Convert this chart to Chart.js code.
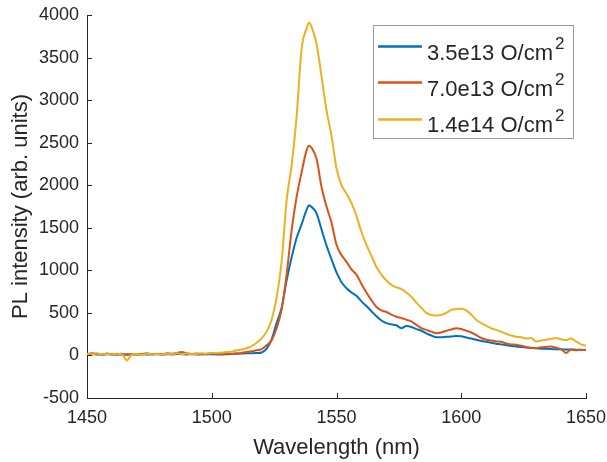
<!DOCTYPE html>
<html>
<head>
<meta charset="utf-8">
<script src="https://cdn.jsdelivr.net/npm/chart.js@4.4.1/dist/chart.umd.min.js"></script>
<style>
  html, body { margin: 0; padding: 0; background: #ffffff; }
  #wrap { width: 607px; height: 462px; position: relative; }
</style>
</head>
<body>
<div id="wrap"><canvas id="c" width="607" height="462"></canvas></div>
<script>
// ---- data ----
const wavelengths = [
  1450,1452,1454,1456,1458,1460,1462,1464,1466,1468,
  1470,1472,1474,1476,1478,1480,1482,1484,1486,1488,
  1490,1492,1494,1496,1498,1500,1502,1504,1506,1508,
  1510,1512,1514,1516,1518,1520,1522,1524,1526,1528,
  1530,1532,1534,1536,1538,1539,1540,1542,1544,1546,1548,
  1550,1552,1554,1556,1558,1560,1562,1564,1566,1568,
  1570,1572,1574,1576,1578,1580,1582,1584,1586,1588,
  1590,1592,1594,1596,1598,1600,1602,1604,1606,1608,
  1610,1612,1614,1616,1618,1620,1622,1624,1626,1628,
  1630,1632,1634,1636,1638,1640,1642,1644,1646,1648,
  1650
];
const dose35e13 = [
  10,15,12,8,15,10,12,8,15,10,
  12,15,10,12,15,10,14,12,18,15,
  12,15,10,14,12,15,12,10,15,18,
  20,22,25,25,28,35,80,190,380,560,
  880,1150,1380,1540,1710,1765,1745,1670,1480,1290,1130,
  975,860,790,740,700,635,580,520,460,410,
  380,365,355,320,345,335,310,290,260,235,
  215,215,220,222,228,225,210,198,185,170,
  160,148,138,130,120,112,105,98,92,88,
  85,80,78,75,72,72,70,70,68,66,
  65
];
const dose70e13 = [
  15,25,20,10,22,15,12,20,5,15,
  10,18,25,15,20,12,25,20,30,40,
  25,18,22,15,20,25,20,18,22,20,
  25,30,40,50,60,75,120,180,320,540,
  950,1470,1860,2150,2410,2465,2440,2310,1980,1750,1560,
  1300,1180,1100,1010,950,840,740,650,570,530,
  510,480,455,440,420,400,360,320,300,280,
  262,270,290,305,320,310,290,270,240,205,
  185,175,165,160,140,130,125,115,100,90,
  85,95,100,105,90,75,30,70,60,65,
  65
];
const dose14e14 = [
  20,15,25,10,18,12,20,15,-60,10,
  15,8,20,12,18,10,20,15,25,18,
  22,15,20,25,20,28,30,32,40,45,
  60,70,85,110,150,200,280,420,680,1100,
  1820,2230,2800,3600,3840,3910,3860,3660,3280,2880,2580,
  2200,2000,1900,1790,1640,1450,1300,1170,1040,950,
  880,830,800,780,740,690,620,560,500,475,
  470,475,500,535,545,548,530,480,420,380,
  350,320,300,280,255,235,220,215,200,205,
  165,175,185,195,205,190,180,200,165,130,
  115
];
const seriesLabels = ["3.5e13 O/cm²", "7.0e13 O/cm²", "1.4e14 O/cm²"];
const xTicks = [1450, 1500, 1550, 1600, 1650];
const yTicks = [-500, 0, 500, 1000, 1500, 2000, 2500, 3000, 3500, 4000];

// ---- styling ----
const FONT = '"Liberation Sans", Arial, Helvetica, sans-serif';
const INK = '#262626';
const COLORS = ['#0072BD', '#D95319', '#EDB120'];

function pts(ys) { return wavelengths.map((x, i) => ({ x: x, y: ys[i] })); }

const innerTicks = {
  id: 'innerTicks',
  afterDraw(chart) {
    const ctx = chart.ctx, xs = chart.scales.x, ys = chart.scales.y;
    const area = chart.chartArea;
    ctx.save();
    ctx.strokeStyle = INK;
    ctx.lineWidth = 1;
    ctx.beginPath();
    yTicks.forEach(v => {
      const p = Math.round(ys.getPixelForValue(v)) + 0.5;
      ctx.moveTo(area.left, p); ctx.lineTo(area.left + 5, p);
    });
    xTicks.forEach(v => {
      const p = Math.round(xs.getPixelForValue(v)) + 0.5;
      ctx.moveTo(p, area.bottom); ctx.lineTo(p, area.bottom - 5);
    });
    ctx.stroke();
    ctx.restore();
  }
};

const boxLegend = {
  id: 'boxLegend',
  afterDraw(chart) {
    const ctx = chart.ctx;
    const bx = 373, by = 25, bw = 200, bh = 113;
    ctx.save();
    ctx.fillStyle = '#ffffff';
    ctx.fillRect(bx, by, bw, bh);
    ctx.strokeStyle = '#9a9a9a';
    ctx.lineWidth = 1;
    ctx.strokeRect(bx + 0.5, by + 0.5, bw, bh);
    chart.data.datasets.forEach((ds, i) => {
      const base = by + 34.5 + i * 36.3;
      const ly = Math.round(base - 13.5) + 0.5;
      ctx.strokeStyle = ds.borderColor;
      ctx.lineWidth = 2.5;
      ctx.beginPath();
      ctx.moveTo(378, ly); ctx.lineTo(422, ly);
      ctx.stroke();
      const txt = ds.label;
      const main = txt.slice(0, -1);
      const sup = txt.slice(-1) === '²' ? '2' : '';
      ctx.fillStyle = INK;
      ctx.textBaseline = 'alphabetic';
      ctx.textAlign = 'left';
      ctx.font = '22px ' + FONT;
      ctx.fillText(main, 427, base);
      const w = ctx.measureText(main).width;
      ctx.font = '17px ' + FONT;
      ctx.fillText(sup, 427 + w + 2, base - 11);
    });
    ctx.restore();
  }
};

new Chart(document.getElementById('c'), {
  type: 'line',
  data: {
    datasets: [
      { label: seriesLabels[0], data: pts(dose35e13), borderColor: COLORS[0], order: 3 },
      { label: seriesLabels[1], data: pts(dose70e13), borderColor: COLORS[1], order: 2 },
      { label: seriesLabels[2], data: pts(dose14e14), borderColor: COLORS[2], order: 1 }
    ]
  },
  options: {
    responsive: false,
    animation: false,
    devicePixelRatio: 1,
    layout: { padding: { top: 15, right: 21, left: 0, bottom: 0 } },
    elements: {
      line: { borderWidth: 2, cubicInterpolationMode: 'monotone', fill: false },
      point: { radius: 0 }
    },
    plugins: { legend: { display: false }, tooltip: { enabled: false } },
    scales: {
      x: {
        type: 'linear', min: 1450, max: 1650,
        afterBuildTicks: s => { s.ticks = xTicks.map(v => ({ value: v })); },
        afterFit: s => { s.height = 64; s.paddingLeft = 0; s.paddingRight = 0; },
        grid: { drawOnChartArea: false, drawTicks: false },
        border: { display: true, color: INK, width: 1 },
        ticks: { color: INK, font: { family: FONT, size: 18 }, padding: 9, maxRotation: 0,
                 callback: v => String(v) },
        title: { display: true, text: 'Wavelength (nm)', color: INK,
                 font: { family: FONT, size: 22 }, padding: { top: 0, bottom: 1 } }
      },
      y: {
        type: 'linear', min: -500, max: 4000,
        afterBuildTicks: s => { s.ticks = yTicks.map(v => ({ value: v })); },
        afterFit: s => { s.width = 87; s.paddingTop = 0; s.paddingBottom = 0; },
        grid: { drawOnChartArea: false, drawTicks: false },
        border: { display: true, color: INK, width: 1 },
        ticks: { color: INK, font: { family: FONT, size: 18 }, padding: 8,
                 callback: v => String(v) },
        title: { display: true, text: 'PL intensity (arb. units)', color: INK,
                 font: { family: FONT, size: 22 }, padding: { top: 8, bottom: 0 } }
      }
    }
  },
  plugins: [innerTicks, boxLegend]
});
</script>
</body>
</html>
